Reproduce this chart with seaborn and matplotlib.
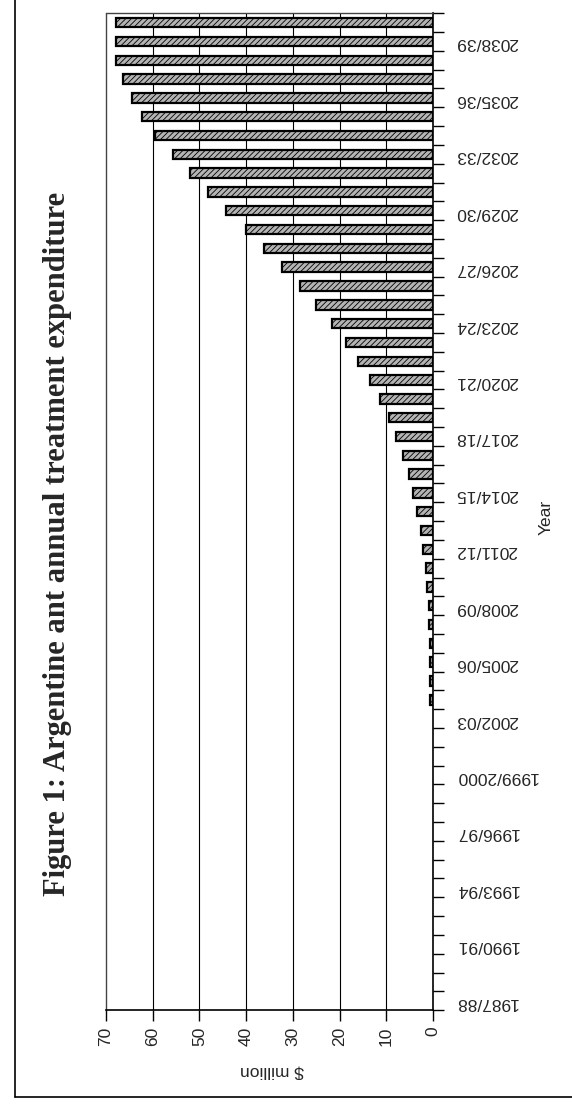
import numpy as np
import pandas as pd
import seaborn as sns
import matplotlib.pyplot as plt
from matplotlib.lines import Line2D
from matplotlib.ticker import FixedLocator

# Anos (categorias) 1987/88 .. 2039/40
start_years = list(range(1987, 2040))
years = [f"{y}/{y + 1}" if y == 1999 else f"{y}/{(y + 1) % 100:02d}" for y in start_years]

# Gasto anual ($ million), a partir de 2003/04
spend_years = years[16:]
spend = [0.6, 0.6, 0.6, 0.6, 0.9, 0.9, 1.2, 1.6, 2.1, 2.6, 3.4, 4.2, 5.1, 6.4,
         8.0, 9.4, 11.3, 13.5, 16.1, 18.6, 21.6, 25.1, 28.5, 32.3, 36.2, 40.1,
         44.3, 48.2, 52.0, 55.7, 59.4, 62.3, 64.5, 66.4, 67.9, 67.9, 67.9]

# Rótulos a cada 3 anos
label_years = years[::3]
value_ticks = list(range(0, 71, 10))

title = "Figure 1: Argentine ant annual treatment expenditure"

df = pd.DataFrame({'year': spend_years, 'spend': spend})

sns.set_style('white')
plt.rcParams['font.family'] = ['Liberation Sans', 'DejaVu Sans']
plt.rcParams['hatch.linewidth'] = 0.6

fig = plt.figure(figsize=(5.72, 11.04), dpi=100)
ax = fig.add_axes([0.185, 0.085, 0.572, 0.903])

# gráfico girado: anos na vertical (de baixo para cima), valores da direita para a esquerda
order = years[::-1]
sns.barplot(data=df, x='spend', y='year', order=order, orient='h',
            color='#b4b4b4', saturation=1, edgecolor='black', linewidth=1.6,
            hatch='//////', width=0.5, errorbar=None, ax=ax, zorder=3)

ax.set_xlim(70, 0)
ax.set_ylim(len(order) - 0.5, -0.5)

for v in value_ticks[1:-1]:
    ax.axvline(v, color='black', lw=0.8, zorder=1)

for side in ['right', 'bottom']:
    ax.spines[side].set_color('black')
    ax.spines[side].set_linewidth(1.2)
for side in ['top', 'left']:
    ax.spines[side].set_color('#444444')
    ax.spines[side].set_linewidth(1.0)
    ax.spines[side].set_linestyle((0, (1, 1)))

# eixo das categorias (à direita)
ax.yaxis.tick_right()
ax.set_yticks([order.index(y) for y in label_years], label_years)
ax.yaxis.set_minor_locator(FixedLocator(np.arange(-0.5, len(order), 1)))
ax.tick_params(axis='y', which='major', length=0, pad=16, labelsize=12.5,
               labelrotation=180)
ax.tick_params(axis='y', which='minor', length=8, width=1, direction='out',
               right=True, left=False, color='black')

# eixo dos valores (embaixo)
ax.set_xticks(value_ticks)
ax.tick_params(axis='x', which='major', length=8, width=1, direction='out',
               bottom=True, pad=4, labelsize=12.5, labelrotation=90, color='black')

ax.set_xlabel('')
ax.set_ylabel('')

fig.text(546 / 572, 1 - 517 / 1104, 'Year', rotation=90, ha='center', va='center',
         size=12.5)
fig.text(272 / 572, 1 - 1071 / 1104, '\\$ million', rotation=180, ha='center',
         va='center', size=12.5)
fig.text(58 / 572, 1 - 544 / 1104, title, rotation=90, ha='center', va='center',
         family=['Liberation Serif', 'DejaVu Serif'], weight='bold', size=22)

# moldura da página
fig.add_artist(Line2D([15 / 572, 15 / 572], [1 - 1097 / 1104, 1],
                      transform=fig.transFigure, color='black', lw=1.2))
fig.add_artist(Line2D([15 / 572, 1], [1 - 1097 / 1104, 1 - 1097 / 1104],
                      transform=fig.transFigure, color='black', lw=1.2))

fig.savefig('out.png', dpi=100)
